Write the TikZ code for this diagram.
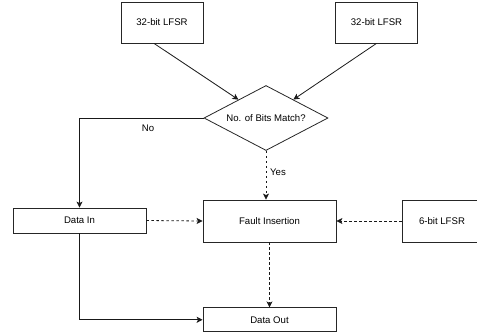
\documentclass[tikz,border=0pt]{standalone}
\usepackage{fontspec}
\setmainfont{Liberation Sans}
\usetikzlibrary{shapes.geometric,arrows.meta}

\begin{document}
\begin{tikzpicture}[x=1pt,y=-1pt,
  font=\fontsize{9.6}{11}\selectfont,
  box/.style={draw=black!85,line width=0.8pt,rectangle,inner sep=0pt},
  decision/.style={draw=black!85,line width=0.8pt,diamond,inner sep=0pt,aspect=1.9,
    minimum width=124pt,minimum height=65pt},
  flow/.style={draw=black!90,line width=0.8pt,-{Stealth[length=6pt,width=6pt,inset=1.5pt]}},
  dflow/.style={flow,dash pattern=on 2.5pt off 2.5pt},
  lbl/.style={inner sep=1pt}
]
\useasboundingbox (0,0) rectangle (477,333);

% generators and decision
\node[box,minimum width=82pt,minimum height=41pt] (lfsrA) at (162,22.5) {32-bit LFSR};
\node[box,minimum width=82pt,minimum height=41pt] (lfsrB) at (376.5,22.5) {32-bit LFSR};
\node[decision] (match) at (266,118) {No. of Bits Match?};

% data path
\node[box,minimum width=133pt,minimum height=25pt] (datain) at (79.5,220.5) {Data In};
\node[box,minimum width=133pt,minimum height=42pt] (fault) at (269.5,221) {Fault Insertion};
\node[box,minimum width=80pt,minimum height=42pt] (lfsr6) at (442,221) {6-bit LFSR};
\node[box,minimum width=133pt,minimum height=24pt] (dataout) at (269.5,319.8) {Data Out};

% connectors
\draw[flow] ([xshift=-8pt]lfsrA.south) -- (match);
\draw[flow] (lfsrB.south) -- (match);
\draw[flow] (match.west) -| (datain.north);
\node[lbl] (nolbl) at (148,128) {No};
\draw[dflow] (match.south) -- (match.south |- fault.north);
\node[lbl] (yeslbl) at (278,172) {Yes};
\draw[dflow] (datain.east) -- (fault.west);
\draw[dflow] (lfsr6.west) -- (fault.east);
\draw[dflow] (fault.south) -- (dataout.north);
\draw[flow] (datain.south) |- (dataout.west);
\end{tikzpicture}
\end{document}
